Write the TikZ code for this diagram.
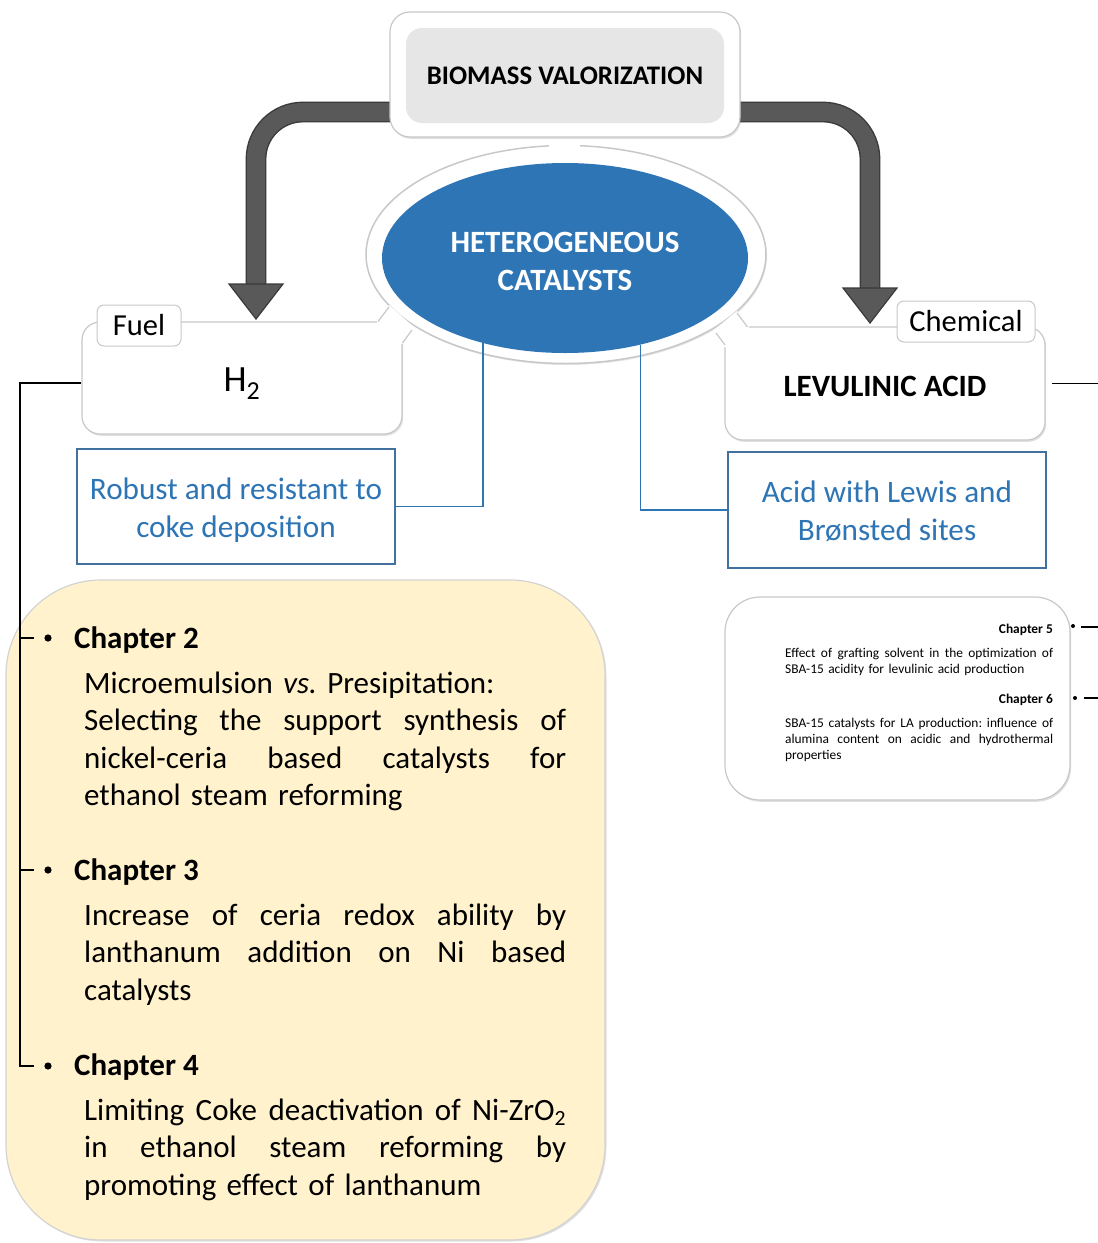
\documentclass[tikz,border=0pt]{standalone}
\usepackage{fontspec}
\setmainfont{Carlito}
\usetikzlibrary{shapes.geometric,shadows,calc}
\definecolor{catblue}{HTML}{2E75B6}
\definecolor{boxblue}{HTML}{41719C}
\definecolor{arrowgray}{HTML}{595959}
\definecolor{arrowedge}{HTML}{3A3A3A}
\definecolor{paleyellow}{HTML}{FFF2CC}
\definecolor{innergray}{HTML}{E6E6E6}
\definecolor{edgegray}{HTML}{C8C8C8}
\newcommand\jusline[1]{\makebox[482pt][l]{#1}}
\newcommand\jussmall[1]{\makebox[268pt][l]{#1}}
\frenchspacing
\begin{document}
\begin{tikzpicture}[x=1pt,y=-1pt,
  softbox/.style={draw=edgegray, line width=1.2pt, fill=white, inner sep=0pt,
    drop shadow={shadow xshift=1.2pt, shadow yshift=-1.8pt, opacity=0.25}},
  tagbox/.style={draw=edgegray, line width=1pt, fill=white, rounded corners=7pt, inner sep=0pt,
    font=\fontsize{30.5}{36}\selectfont},
  bluebox/.style={draw=boxblue, line width=2pt, fill=white, inner sep=0pt},
  bluetext/.style={inner sep=0pt, align=center, text=catblue, font=\fontsize{31.2}{38}\selectfont},
  blueline/.style={draw=catblue, line width=1.8pt},
  arrowbody/.style={draw=arrowedge, line width=1.4pt, double=arrowgray, double distance=18pt, rounded corners=47pt},
  arrowhead/.style={fill=arrowgray, draw=arrowedge, line width=1.2pt, line join=miter},
  headtext/.style={inner sep=0pt, font=\bfseries\fontsize{31}{37.5}\selectfont},
  bodytext/.style={inner sep=0pt, text width=482pt, align=left, font=\fontsize{31}{37.5}\selectfont},
  smallhead/.style={inner sep=0pt, font=\bfseries\fontsize{13.4}{16.3}\selectfont},
  smallbody/.style={inner sep=0pt, text width=268pt, align=left, font=\fontsize{13.4}{16.3}\selectfont},
  treeline/.style={draw=black, line width=1.1pt},
  joinedge/.style={draw=edgegray, line width=1.2pt}
]
\useasboundingbox (0,0) rectangle (1098,1243);

% top box geometry (needed for arrows)
\path (565,74.5) node[minimum width=350pt, minimum height=125pt, inner sep=0pt] (topout) {};

% grey arrows
\coordinate (tipL) at (256,319);
\coordinate (tipR) at (870,323);
\draw[arrowbody] ([xshift=12pt,yshift=-37.5pt]topout.west) -| ($(tipL)+(0,-34)$);
\draw[arrowbody] ([xshift=-12pt,yshift=-37.5pt]topout.east) -| ($(tipR)+(0,-34)$);
\draw[arrowhead] (tipL) -- ++(-27,-35) -- ++(54,0) -- cycle;
\draw[arrowhead] (tipR) -- ++(-27,-35) -- ++(54,0) -- cycle;

% product boxes
\node[softbox, rounded corners=18pt, minimum width=320pt, minimum height=112pt] (h2) at (242,378) {};
\node[inner sep=0pt, font=\fontsize{37}{40}\selectfont] (h2t) at (242,384) {H\textsubscript{2}};
\node[softbox, rounded corners=18pt, minimum width=320pt, minimum height=113pt] (la) at (885,383.5) {};
\node[inner sep=0pt, font=\bfseries\fontsize{31}{34}\selectfont] (lat) at (885,386) {LEVULINIC ACID};

% central ellipse
\node[ellipse, draw=edgegray, line width=1.5pt, fill=white, minimum width=400pt, minimum height=218pt,
  drop shadow={shadow xshift=1pt, shadow yshift=-1.5pt, opacity=0.2}] (ellout) at (566,254.5) {};
\node[ellipse, fill=catblue, minimum width=366pt, minimum height=190pt, inner sep=0pt] (ellin) at (565,258) {};
\node[inner sep=0pt, align=center, text=white, font=\bfseries\fontsize{31}{38}\selectfont] (ellt) at (565,261) {HETEROGENEOUS\\CATALYSTS};

% junctions between the ring and the product boxes
\fill[white] (377,320) -- (389,305) -- (415,328) -- (403.5,344) -- (395,344) -- (377,326) -- cycle;
\draw[joinedge] (378,321.5) -- (389,307);
\draw[joinedge] (402.5,343) -- (412,330);
\fill[white] (749,325) -- (737,311) -- (714,330) -- (724,347) -- (732,347) -- (749,331) -- cycle;
\draw[joinedge] (747.5,327) -- (737,313);
\draw[joinedge] (725,345) -- (716,333);

% top box
\node[softbox, rounded corners=20pt, minimum width=350pt, minimum height=125pt] (topbox) at (topout) {};
\node[fill=innergray, rounded corners=16pt, minimum width=318pt, minimum height=95pt, inner sep=0pt,
  font=\bfseries\fontsize{26.8}{30}\selectfont] (topin) at (565,75.5) {BIOMASS VALORIZATION};
\fill[white] (549,140) rectangle (580,152);

% tags
\node[tagbox, minimum width=84pt, minimum height=41pt] (fuel) at (139,325.5) {Fuel};
\node[tagbox, minimum width=138pt, minimum height=41pt] (chem) at (966,321.5) {Chemical};

% blue boxes and connectors
\node[bluebox, minimum width=318pt, minimum height=115pt] (bl) at (236,506.5) {};
\node[bluetext] (blt) at (236,510.5) {Robust and resistant to\\coke deposition};
\node[bluebox, minimum width=318pt, minimum height=116pt] (br) at (887,510) {};
\node[bluetext] (brt) at (887,511.5) {Acid with Lewis and\\Brønsted sites};
\draw[blueline] (ellin.226) |- (bl.east);
\draw[blueline] (ellin.311.5) |- (br.west);

% yellow chapter box
\node[draw=edgegray!80, line width=1.2pt, fill=paleyellow, rounded corners=95pt,
  minimum width=599pt, minimum height=660pt, inner sep=0pt,
  drop shadow={shadow xshift=1.5pt, shadow yshift=-1.5pt, opacity=0.25}] (yel) at (305.5,910) {};

\node[headtext, anchor=base west] (c2) at (74,648) {Chapter 2};
\node[bodytext, anchor=base west] (t2) at (84,693) {Microemulsion \textit{vs.} Presipitation:\\\jusline{Selecting\hfill the\hfill support\hfill synthesis\hfill of}\\\jusline{nickel-ceria\hfill based\hfill catalysts\hfill for}\\ethanol steam reforming};
\node[headtext, anchor=base west] (c3) at (74,880) {Chapter 3};
\node[bodytext, anchor=base west] (t3) at (84,925) {\jusline{Increase\hfill of\hfill ceria\hfill redox\hfill ability\hfill by}\\\jusline{lanthanum\hfill addition\hfill on\hfill Ni\hfill based}\\catalysts};
\node[headtext, anchor=base west] (c4) at (74,1075) {Chapter 4};
\node[bodytext, anchor=base west] (t4) at (84,1120) {\jusline{Limiting\hfill Coke\hfill deactivation\hfill of\hfill Ni-ZrO\textsubscript{2}}\\\jusline{in\hfill ethanol\hfill steam\hfill reforming\hfill by}\\promoting effect of lanthanum};

% small chapter box
\node[softbox, rounded corners=35pt, minimum width=345pt, minimum height=203pt] (sb) at (897.5,698.5) {};
\node[smallhead, anchor=base east] (c5) at (1053,633) {Chapter 5};
\node[smallbody, anchor=base west] (t5) at (785,657) {\jussmall{Effect\hfill of\hfill grafting\hfill solvent\hfill in\hfill the\hfill optimization\hfill of}\\SBA-15 acidity for levulinic acid production};
\node[smallhead, anchor=base east] (c6) at (1053,703) {Chapter 6};
\node[smallbody, anchor=base west] (t6) at (785,727) {\jussmall{SBA-15\hfill catalysts\hfill for\hfill LA\hfill production:\hfill influence\hfill of}\\\jussmall{alumina\hfill content\hfill on\hfill acidic\hfill and\hfill hydrothermal}\\properties};

% left tree
\coordinate (b2) at (48,638);
\coordinate (b3) at (48,870);
\coordinate (b4) at (48,1066);
\coordinate (trunk) at (20,1066);
\draw[treeline] ([yshift=-5pt]h2.west) -| (trunk) -- ([xshift=-14pt]b4);
\draw[treeline] (b2 -| trunk) -- ([xshift=-14pt]b2);
\draw[treeline] (b3 -| trunk) -- ([xshift=-14pt]b3);
\fill (b2) circle (3.6);
\fill (b3) circle (3.6);
\fill (b4) circle (3.6);

% right tree
\coordinate (rt) at (1098,383.5);
\draw[treeline] ([xshift=6pt]la.east) -- (rt);
\coordinate (b5) at (1073,626);
\coordinate (b6) at (1075,698);
\fill (b5) circle (2);
\fill (b6) circle (2);
\draw[treeline] ([xshift=8pt,yshift=-1pt]b5) -- ++(30,0);
\draw[treeline] ([xshift=9pt]b6) -- ++(30,0);
\end{tikzpicture}
\end{document}
